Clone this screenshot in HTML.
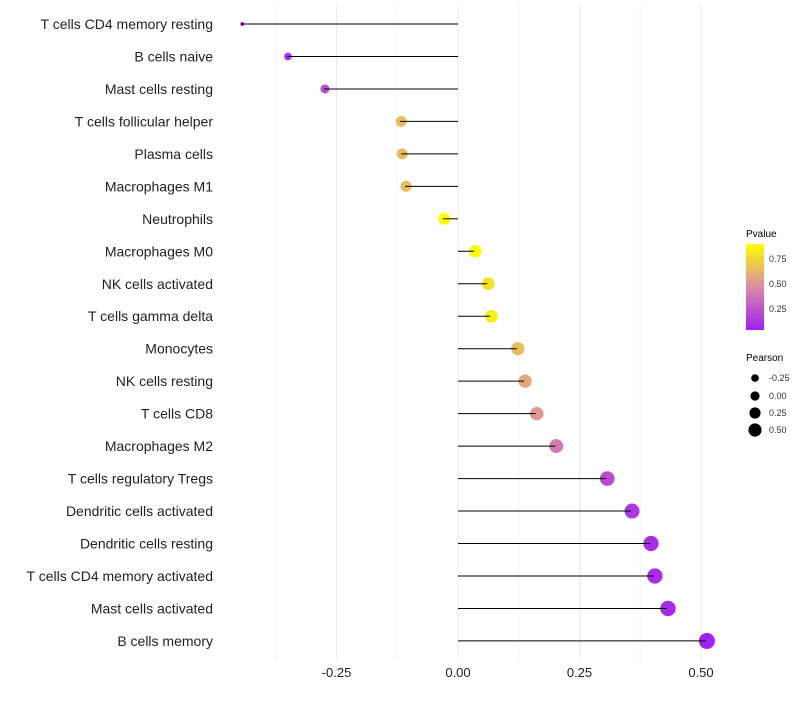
<!DOCTYPE html>
<html><head><meta charset="utf-8"><style>
body{margin:0;background:#fff;font-family:"Liberation Sans",sans-serif}
</style></head><body>
<svg id="chart" width="800" height="700" xmlns="http://www.w3.org/2000/svg">
<defs><linearGradient id="pg" x1="0" y1="1" x2="0" y2="0">
<stop offset="0" stop-color="#a020f0"/><stop offset="0.5" stop-color="#db8ba6"/><stop offset="1" stop-color="#ffff00"/>
</linearGradient></defs>
<g id="grid"></g><g id="marks"></g><g id="labels"></g>
<g font-size="9">
<text x="746" y="237" font-size="10" fill="#000">Pvalue</text>
<rect x="746" y="244" width="18" height="86" fill="url(#pg)"/>
<text x="769" y="262" fill="#333">0.75</text>
<text x="769" y="287" fill="#333">0.50</text>
<text x="769" y="312" fill="#333">0.25</text>
</g>
<g font-size="9">
<text x="746" y="361" font-size="10" fill="#000">Pearson</text>
<circle cx="755" cy="378" r="3.8"/><text x="769" y="381" fill="#333">-0.25</text>
<circle cx="755" cy="396" r="4.6"/><text x="769" y="399" fill="#333">0.00</text>
<circle cx="755" cy="413" r="5.6"/><text x="769" y="416" fill="#333">0.25</text>
<circle cx="755" cy="430" r="6.6"/><text x="769" y="433" fill="#333">0.50</text>
</g>
</svg>
<script>
const categories=["T cells CD4 memory resting","B cells naive","Mast cells resting","T cells follicular helper","Plasma cells","Macrophages M1","Neutrophils","Macrophages M0","NK cells activated","T cells gamma delta","Monocytes","NK cells resting","T cells CD8","Macrophages M2","T cells regulatory  Tregs","Dendritic cells activated","Dendritic cells resting","T cells CD4 memory activated","Mast cells activated","B cells memory"];
const pearson=[-0.446,-0.352,-0.276,-0.119,-0.117,-0.109,-0.031,0.033,0.060,0.066,0.121,0.136,0.160,0.200,0.305,0.356,0.395,0.403,0.430,0.510];
const pvalue=[0.02,0.12,0.22,0.66,0.66,0.66,0.92,0.9,0.8,0.85,0.66,0.58,0.52,0.4,0.2,0.12,0.08,0.07,0.06,0.02];
const xTicks=[-0.25,0,0.25,0.5];
const xTickLabels=["-0.25","0.00","0.25","0.50"];
const NS="http://www.w3.org/2000/svg";
const xs=v=>458+v*486;
const ys=i=>24+i*32.47;
function mk(t,a,p){const e=document.createElementNS(NS,t);for(const k in a)e.setAttribute(k,a[k]);p.appendChild(e);return e;}
function lerp(a,b,t){return a.map((x,i)=>Math.round(x+(b[i]-x)*t));}
function col(p){const t=Math.max(0,Math.min(1,(p-0.02)/0.9));const A=[160,32,240],M=[219,139,166],B=[255,255,0];const c=t<0.5?lerp(A,M,t*2):lerp(M,B,(t-0.5)*2);return `rgb(${c})`;}
const grid=document.getElementById('grid'),marks=document.getElementById('marks'),labels=document.getElementById('labels');
[-0.375,-0.125,0.125,0.375].forEach(v=>{const l=mk('line',{x1:xs(v),x2:xs(v),y1:5,y2:660,stroke:'#f5f5f5','stroke-width':1},grid);

});
xTicks.forEach((v,i)=>{const l=mk('line',{x1:xs(v),x2:xs(v),y1:5,y2:660,stroke:'#ebebeb','stroke-width':1},grid);


const t=mk('text',{x:xs(v),y:677,'text-anchor':'middle','font-size':13,fill:'#222'},labels);t.textContent=xTickLabels[i];

});
const pmin=Math.min(...pearson),pmax=Math.max(...pearson);
categories.forEach((c,i)=>{const y=ys(i),v=pearson[i];
const t=mk('text',{x:213,y:y+5,'text-anchor':'end','font-size':14,fill:'#222'},labels);t.textContent=c;


const tt=(v-pmin)/(pmax-pmin);
const r=2+6*Math.sqrt(tt);
const d=mk('circle',{cx:xs(v)+1,cy:y,r:r,fill:col(pvalue[i])},marks);


const l=mk('line',{x1:xs(0),x2:xs(v),y1:y,y2:y,stroke:'#000','stroke-width':1},marks);


});
</script>
</body></html>
